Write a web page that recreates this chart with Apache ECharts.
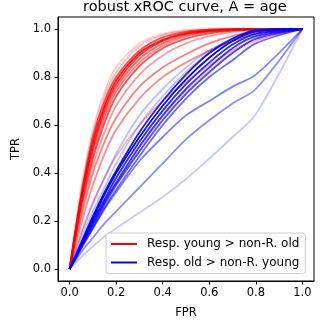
<!DOCTYPE html>
<html>
<head>
<meta charset="utf-8">
<script src="https://cdn.jsdelivr.net/npm/echarts@6/dist/echarts.min.js"></script>
<style>
  html, body { margin: 0; padding: 0; background: #fff; }
  #chart { width: 332px; height: 332px; }
</style>
</head>
<body>
<div id="chart"></div>
<script>
const fpr = [0, 0.05, 0.1, 0.15, 0.2, 0.3, 0.4, 0.5, 0.6, 0.7, 0.8, 1];

// red: responders young > non-responders old
const redTpr = [
  [0, 0.34, 0.58, 0.74, 0.84, 0.94, 0.98, 0.995, 1, 1, 1, 1],
  [0, 0.32, 0.56, 0.72, 0.82, 0.93, 0.975, 0.992, 0.998, 1, 1, 1],
  [0, 0.31, 0.55, 0.7, 0.8, 0.91, 0.965, 0.988, 0.997, 1, 1, 1],
  [0, 0.3, 0.53, 0.68, 0.785, 0.9, 0.955, 0.983, 0.994, 0.998, 1, 1],
  [0, 0.29, 0.51, 0.665, 0.77, 0.89, 0.95, 0.98, 0.992, 0.997, 1, 1],
  [0, 0.28, 0.5, 0.65, 0.755, 0.875, 0.94, 0.975, 0.99, 0.996, 1, 1],
  [0, 0.27, 0.48, 0.63, 0.74, 0.86, 0.93, 0.97, 0.988, 0.995, 1, 1],
  [0, 0.26, 0.46, 0.61, 0.72, 0.845, 0.92, 0.96, 0.982, 0.993, 0.998, 1],
  [0, 0.24, 0.43, 0.57, 0.68, 0.81, 0.89, 0.94, 0.97, 0.988, 0.996, 1],
  [0, 0.22, 0.4, 0.53, 0.63, 0.76, 0.84, 0.895, 0.94, 0.97, 0.99, 1],
  [0, 0.19, 0.35, 0.48, 0.58, 0.71, 0.8, 0.86, 0.91, 0.95, 0.98, 1],
  [0, 0.15, 0.28, 0.38, 0.47, 0.6, 0.7, 0.78, 0.85, 0.91, 0.955, 1],
  [0, 0.1, 0.19, 0.27, 0.35, 0.5, 0.63, 0.74, 0.83, 0.9, 0.95, 1]
];
const redAlpha = [0.2, 0.25, 0.7, 0.9, 0.8, 0.6, 0.5, 0.7, 0.4, 0.5, 0.45, 0.3, 0.2];

// blue: responders old > non-responders young
const blueTpr = [
  [0, 0.14, 0.27, 0.38, 0.48, 0.64, 0.75, 0.84, 0.91, 0.96, 0.99, 1],
  [0, 0.12, 0.24, 0.34, 0.44, 0.6, 0.72, 0.82, 0.9, 0.95, 0.985, 1],
  [0, 0.11, 0.22, 0.32, 0.41, 0.57, 0.7, 0.81, 0.9, 0.96, 0.995, 1],
  [0, 0.105, 0.21, 0.31, 0.4, 0.55, 0.68, 0.79, 0.88, 0.95, 0.99, 1],
  [0, 0.1, 0.2, 0.29, 0.38, 0.53, 0.66, 0.77, 0.86, 0.935, 0.98, 1],
  [0, 0.095, 0.19, 0.28, 0.36, 0.51, 0.64, 0.75, 0.84, 0.92, 0.97, 1],
  [0, 0.09, 0.18, 0.27, 0.35, 0.49, 0.62, 0.73, 0.82, 0.9, 0.96, 1],
  [0, 0.085, 0.17, 0.255, 0.33, 0.47, 0.6, 0.71, 0.8, 0.87, 0.94, 1],
  [0, 0.09, 0.17, 0.25, 0.32, 0.45, 0.55, 0.64, 0.7, 0.76, 0.81, 1],
  [0, 0.07, 0.13, 0.19, 0.24, 0.34, 0.44, 0.54, 0.62, 0.69, 0.75, 1],
  [0, 0.05, 0.095, 0.135, 0.17, 0.235, 0.3, 0.375, 0.46, 0.55, 0.645, 1]
];
const blueAlpha = [0.25, 0.25, 0.9, 1, 0.85, 0.8, 0.7, 0.6, 0.5, 0.45, 0.22];

const tickValues = [0, 0.2, 0.4, 0.6, 0.8, 1];
const legendNames = ['Resp. young > non-R. old', 'Resp. old > non-R. young'];

const font = 'DejaVu Sans';
const chart = echarts.init(document.getElementById('chart'), null, { renderer: 'canvas' });

function makeLine(tpr, color, alpha) {
  return {
    type: 'line',
    data: fpr.map((x, i) => [x, tpr[i]]),
    showSymbol: false,
    symbol: 'none',
    smooth: 0.3,
    silent: true,
    lineStyle: { color: color, opacity: alpha, width: 1.8 }
  };
}

const series = [];
redTpr.forEach((t, i) => series.push(makeLine(t, '#ff0000', redAlpha[i])));
blueTpr.forEach((t, i) => series.push(makeLine(t, '#0000ff', blueAlpha[i])));
// empty series only for the legend
series.push({ type: 'line', name: legendNames[0], data: [], symbol: 'none', lineStyle: { color: '#ff0000', width: 2 }, itemStyle: { color: '#ff0000' } });
series.push({ type: 'line', name: legendNames[1], data: [], symbol: 'none', lineStyle: { color: '#0000ff', width: 2 }, itemStyle: { color: '#0000ff' } });

function axis(name, gap, margin) {
  return {
    type: 'value',
    min: -0.05,
    max: 1.05,
    name: name,
    nameLocation: 'middle',
    nameGap: gap,
    nameTextStyle: { fontFamily: font, fontSize: 11.5, color: '#000' },
    axisLine: { show: true, onZero: false, lineStyle: { color: '#000', width: 1 } },
    axisTick: { show: true, inside: false, length: 3.5, customValues: tickValues, lineStyle: { color: '#000' } },
    axisLabel: { customValues: tickValues, formatter: v => v.toFixed(1), fontFamily: font, fontSize: 11.5, color: '#000', margin: margin },
    splitLine: { show: false }
  };
}

const option = {
  animation: false,
  backgroundColor: '#fff',
  title: {
    text: 'robust xROC curve, A = age',
    left: 83,
    top: 0,
    padding: 0,
    textStyle: { fontFamily: font, fontSize: 14.5, fontWeight: 'normal', color: '#000' }
  },
  grid: { left: 58, right: 18, top: 17, bottom: 51, show: true, borderColor: '#000', borderWidth: 1, backgroundColor: 'transparent' },
  xAxis: axis('FPR', 26, 6),
  yAxis: axis('TPR', 27, 7),
  legend: {
    data: legendNames,
    orient: 'vertical',
    left: 106,
    top: 233,
    padding: [4, 6, 4, 5],
    itemGap: 4.5,
    itemWidth: 26,
    itemHeight: 2,
    icon: 'rect',
    backgroundColor: 'rgba(255,255,255,0.8)',
    borderColor: '#cccccc',
    borderWidth: 1,
    borderRadius: 3,
    textStyle: { fontFamily: font, fontSize: 12, color: '#000', lineHeight: 14, padding: [0, 0, 0, 5] }
  },
  series: series
};

chart.setOption(option);
window.addEventListener('resize', function () {
  chart.resize();
});
</script>
</body>
</html>
